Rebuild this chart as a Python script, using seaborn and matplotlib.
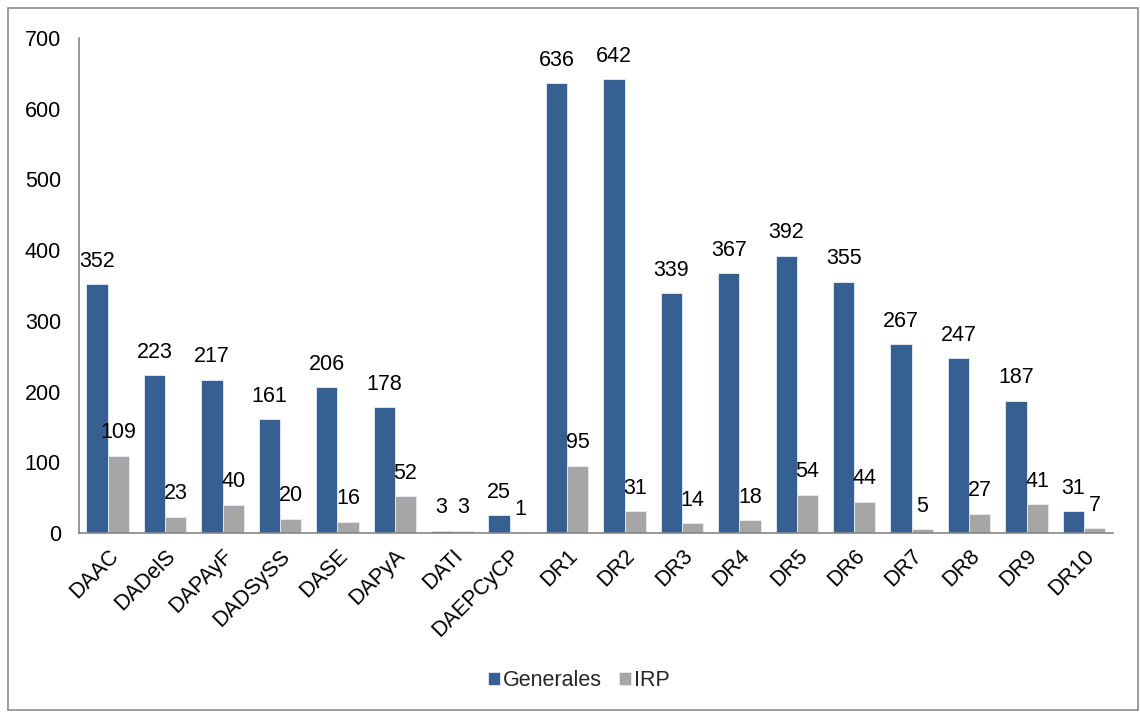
import matplotlib
matplotlib.use("Agg")
import matplotlib.pyplot as plt
import seaborn as sns
import pandas as pd
from matplotlib.patches import Rectangle

categories = ["DAAC", "DADelS", "DAPAyF", "DADSySS", "DASE", "DAPyA", "DATI",
              "DAEPCyCP", "DR1", "DR2", "DR3", "DR4", "DR5", "DR6", "DR7",
              "DR8", "DR9", "DR10"]
generales = [352, 223, 217, 161, 206, 178, 3, 25, 636, 642, 339, 367, 392,
             355, 267, 247, 187, 31]
irp = [109, 23, 40, 20, 16, 52, 3, 1, 95, 31, 14, 18, 54, 44, 5, 27, 41, 7]
series_names = ["Generales", "IRP"]
y_ticks = [0, 100, 200, 300, 400, 500, 600, 700]

df = pd.DataFrame({
    "cat": categories * 2,
    "serie": [series_names[0]] * len(categories) + [series_names[1]] * len(categories),
    "valor": generales + irp,
})

sns.set_theme(style="white")
plt.rcParams["font.family"] = ["Liberation Sans", "DejaVu Sans"]
FS = 15.5

fig = plt.figure(figsize=(11.4, 7.12), dpi=100)
ax = fig.add_axes([0.0693, 0.2514, 0.9067, 0.6952])

palette = {"Generales": "#376092", "IRP": "#A6A6A6"}
sns.barplot(data=df, x="cat", y="valor", hue="serie", palette=palette,
            width=0.74, gap=0, ax=ax, saturation=1, edgecolor="#E8ECF2",
            linewidth=0.6, legend=True)

for cont in ax.containers:
    ax.bar_label(cont, fmt="%d", padding=9, fontsize=FS, color="#000000")

ax.set_ylim(0, 700)
ax.set_yticks(y_ticks)
ax.set_xlim(-0.5, len(categories) - 0.5)
ax.set_xlabel("")
ax.set_ylabel("")
ax.tick_params(axis="y", labelsize=FS, length=0, pad=13, colors="#000000")
ax.tick_params(axis="x", labelsize=FS, length=0, pad=9, colors="#000000")
plt.setp(ax.get_xticklabels(), rotation=45, ha="right", rotation_mode="anchor")

for s in ["top", "right"]:
    ax.spines[s].set_visible(False)
for s in ["left", "bottom"]:
    ax.spines[s].set_color("#868686")
    ax.spines[s].set_linewidth(1.2)

handles, labels = ax.get_legend_handles_labels()
ax.legend(handles, labels, loc="center", bbox_to_anchor=(0.508, 0.044),
          bbox_transform=fig.transFigure, ncol=2, frameon=False, fontsize=FS,
          handlelength=0.55, handleheight=0.55, handletextpad=0.15,
          columnspacing=0.8)

fig.patches.append(Rectangle((0.007, 0.003), 0.991, 0.986, transform=fig.transFigure,
                             fill=False, edgecolor="#8C8C8C", linewidth=1.2))

fig.savefig("out.png", dpi=100, facecolor="white")
